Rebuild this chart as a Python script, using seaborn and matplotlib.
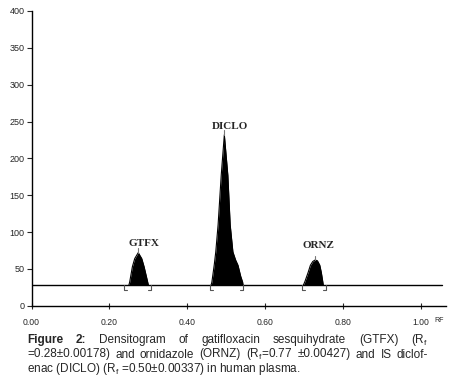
import numpy as np
import pandas as pd
import seaborn as sns
import matplotlib.pyplot as plt

# peak profiles (Rf, intensity)
gtfx_rf = [0.250, 0.252, 0.259, 0.265, 0.274, 0.283, 0.289, 0.297, 0.300]
gtfx_au = [28, 32, 53, 64, 72, 64, 53, 35, 28]
diclo_rf = [0.461, 0.463, 0.469, 0.473, 0.479, 0.487, 0.495, 0.504, 0.510, 0.517, 0.524, 0.530, 0.537, 0.542, 0.543]
diclo_au = [28, 32, 55, 73, 110, 177, 232, 177, 110, 73, 62, 55, 40, 32, 28]
ornz_rf = [0.698, 0.702, 0.710, 0.716, 0.722, 0.728, 0.734, 0.740, 0.744, 0.747, 0.749]
ornz_au = [28, 33, 45, 55, 60, 62, 61, 55, 45, 35, 28]

peak_names = ['GTFX', 'DICLO', 'ORNZ']
peak_rf = [0.274, 0.495, 0.728]
peak_top = [72, 232, 62]
label_rf = [0.289, 0.510, 0.737]
label_au = [84, 243, 82]
bracket_lo = [0.238, 0.458, 0.694]
bracket_hi = [0.306, 0.544, 0.755]

baseline = 28
baseline_end = 1.054
x_ticks = [0.0, 0.2, 0.4, 0.6, 0.8, 1.0]
y_ticks = [0, 50, 100, 150, 200, 250, 300, 350, 400]

df = pd.concat([
    pd.DataFrame({'peak': 'GTFX', 'rf': gtfx_rf, 'au': gtfx_au}),
    pd.DataFrame({'peak': 'DICLO', 'rf': diclo_rf, 'au': diclo_au}),
    pd.DataFrame({'peak': 'ORNZ', 'rf': ornz_rf, 'au': ornz_au}),
])

sns.set_style("ticks")
plt.rcParams['font.family'] = ['Liberation Sans', 'DejaVu Sans']

fig = plt.figure(figsize=(4.54, 3.89), dpi=100)
ax = fig.add_axes([31.5/454, 1-305.7/389, 414.5/454, 294.7/389])

sns.lineplot(data=df, x='rf', y='au', units='peak', estimator=None,
             color='black', lw=0.8, ax=ax, sort=False)
for name, g in df.groupby('peak'):
    ax.fill_between(g['rf'], baseline, g['au'], color='black', lw=0)

ax.plot([0, baseline_end], [baseline, baseline], color='black', lw=1)

# integration brackets and peak markers
for lo, hi in zip(bracket_lo, bracket_hi):
    ax.plot([lo + 0.008, lo, lo], [baseline - 7, baseline - 7, baseline], color='#555555', lw=0.8)
    ax.plot([hi - 0.008, hi, hi], [baseline - 7, baseline - 7, baseline], color='#555555', lw=0.8)
for rf, top in zip(peak_rf, peak_top):
    ax.plot([rf, rf], [top, top + 6], color='#777777', lw=0.8)

for name, x, y in zip(peak_names, label_rf, label_au):
    ax.text(x, y, name, ha='center', va='center', fontsize=8,
            fontweight='bold', family=['Liberation Serif'])

ax.set_xlim(0, 1.064)
ax.set_ylim(0, 400)
ax.set_xticks(x_ticks)
ax.set_xticklabels([f'{v:.2f}' for v in x_ticks])
ax.set_yticks(y_ticks)
ax.set_xlabel('')
ax.set_ylabel('')
ax.tick_params(axis='x', direction='inout', length=5, width=0.8, labelsize=6.2, pad=6)
ax.tick_params(axis='y', direction='out', length=3.5, width=0.8, labelsize=6.5, pad=1.5)
sns.despine(ax=ax)
for s in ['left', 'bottom']:
    ax.spines[s].set_linewidth(1)
    ax.spines[s].set_color('black')
ax.text(1.035, -0.05, 'RF', transform=ax.get_xaxis_transform(), fontsize=5, va='center')

# caption, first two lines justified
fs = 8.5
lines = [
    [('Figure', True), ('2:', True), ('Densitogram', False), ('of', False),
     ('gatifloxacin', False), ('sesquihydrate', False), ('(GTFX)', False),
     (r'(R$_\mathregular{f}$', False)],
    [('=0.28±0.00178)', False), ('and', False), ('ornidazole', False), ('(ORNZ)', False),
     (r'(R$_\mathregular{f}$=0.77', False), ('±0.00427)', False), ('and', False),
     ('IS', False), ('diclof-', False)],
]
baselines = [343, 357.5, 372]
left_px, right_px = 27, 428

renderer = fig.canvas.get_renderer()
for words, yb in zip(lines, baselines):
    texts = [fig.text(0, 1 - yb/389, w, fontsize=fs, va='baseline',
                      fontweight='bold' if b else 'normal') for w, b in words]
    widths = [t.get_window_extent(renderer).width for t in texts]
    gap = (right_px - left_px - sum(widths)) / (len(texts) - 1)
    x = left_px
    for t, w in zip(texts, widths):
        t.set_x(x/454)
        x += w + gap
fig.text(left_px/454, 1 - baselines[2]/389,
         r'enac (DICLO) (R$_\mathregular{f}$ =0.50±0.00337) in human plasma.',
         fontsize=fs, va='baseline')

fig.savefig('out.png', dpi=100)
